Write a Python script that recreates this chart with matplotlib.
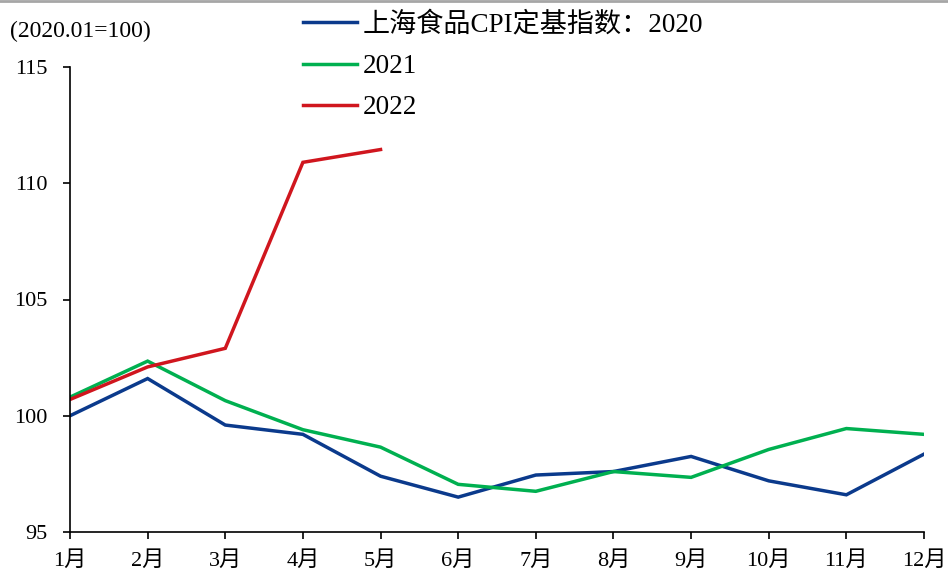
import matplotlib
matplotlib.use('Agg')
import matplotlib.pyplot as plt
from matplotlib.lines import Line2D
from matplotlib.font_manager import FontProperties

# 上海食品CPI定基指数 (2020.01=100)
months = ['1月', '2月', '3月', '4月', '5月', '6月',
          '7月', '8月', '9月', '10月', '11月', '12月']
cpi_2020 = [100.0, 101.6, 99.6, 99.2, 97.4, 96.5, 97.45, 97.6, 98.25, 97.2, 96.6, 98.35]
cpi_2021 = [100.8, 102.35, 100.65, 99.4, 98.65, 97.05, 96.75, 97.6, 97.35, 98.55, 99.45, 99.2]
cpi_2022 = [100.7, 102.1, 102.9, 110.9, 111.45]
yticks = [95, 100, 105, 110, 115]

families = ['Liberation Serif', 'Noto Sans CJK SC']
plt.rcParams['font.family'] = families

fig = plt.figure(figsize=(9.48, 5.74), dpi=100)
ax = fig.add_axes([70 / 948, 1 - 532 / 574, 854 / 948, 465 / 574])

x = list(range(len(months)))
l1, = ax.plot(x, cpi_2020, color='#0b3a8c', linewidth=2.5, solid_joinstyle='miter')
l2, = ax.plot(x, cpi_2021, color='#00b050', linewidth=2.5, solid_joinstyle='miter')
l3, = ax.plot(x[:len(cpi_2022)], cpi_2022, color='#d0161e', linewidth=2.5, solid_joinstyle='miter')

ax.set_xlim(0, len(months) - 1)
ax.set_ylim(95, 115)
ax.set_yticks(yticks)
ax.set_xticks(x)
ax.set_xticklabels(months)

for side in ['top', 'right']:
    ax.spines[side].set_visible(False)
for side in ['left', 'bottom']:
    ax.spines[side].set_linewidth(1.2)
    ax.spines[side].set_color('black')

ax.tick_params(axis='y', direction='out', length=5, width=1.2, pad=11, labelsize=16)
ax.tick_params(axis='x', direction='out', length=5, width=1.2, pad=9, labelsize=16)

fig.text(10 / 948, 1 - 31 / 574, '(2020.01=100)', fontsize=17, va='center', ha='left')

leg = fig.legend([l1, l2, l3], ['上海食品CPI定基指数：2020', '2021', '2022'],
                 loc='upper left', bbox_to_anchor=(303 / 948, 1 - 12 / 574),
                 frameon=False, borderpad=0, borderaxespad=0,
                 handlelength=2.0, handletextpad=0.2, labelspacing=0.6,
                 prop=FontProperties(family=families, size=19.5))

# thin grey rule along the top edge
fig.add_artist(Line2D([0, 1], [1 - 1 / 574, 1 - 1 / 574], transform=fig.transFigure,
                      color='#a6a6a6', linewidth=2))

fig.savefig('out.png', dpi=100)
